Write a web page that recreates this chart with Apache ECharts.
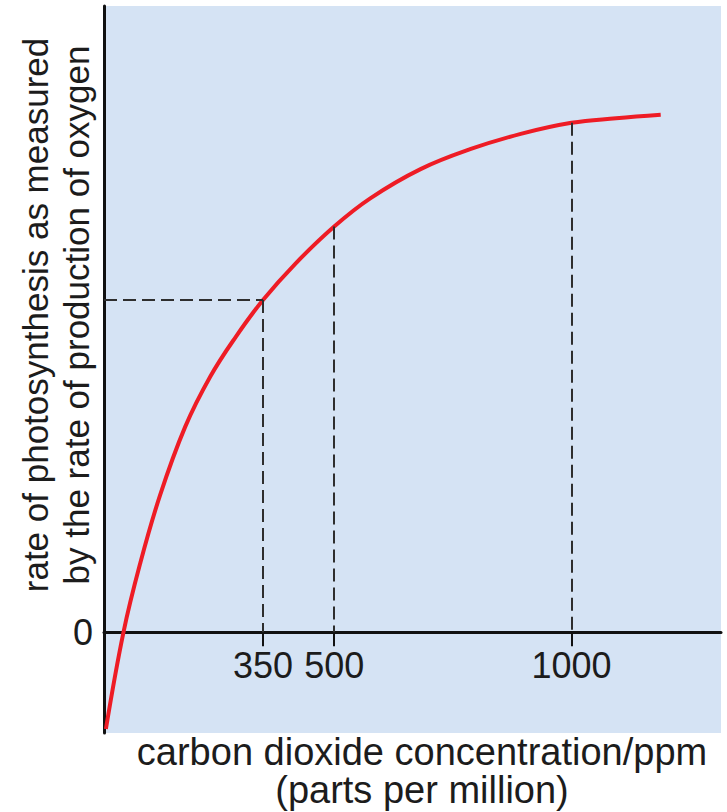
<!DOCTYPE html>
<html>
<head>
<meta charset="utf-8">
<script src="https://cdn.jsdelivr.net/npm/echarts@6/dist/echarts.min.js"></script>
<style>
  html, body { margin: 0; padding: 0; background: #ffffff; }
  #chart { width: 727px; height: 812px; }
</style>
</head>
<body>
<div id="chart"></div>
<script>
// CO2 concentration (ppm) along the response curve
const co2 = [19, 56, 91, 133, 186, 239, 292, 350, 418, 500, 576, 682, 788, 893, 1000, 1094, 1188];
// Relative rate of photosynthesis (oxygen production), arbitrary units
const rate = [-0.96, 0, 0.68, 1.36, 2.04, 2.54, 2.93, 3.30, 3.66, 4.03, 4.31, 4.60, 4.80, 4.95, 5.06, 5.105, 5.14];

// Highlighted concentrations and their rates
const refCo2 = [350, 500, 1000];
const refRate = [3.30, 4.03, 5.06];

// Axis labels
const xTicks = [350, 500, 1000];
const yTicks = [0];

const X_MIN = 15, X_MAX = 1315;
const Y_MIN = -1, Y_MAX = 6.22;

const GRID_TOP = 6, GRID_BOTTOM = 79, CHART_H = 812;

const textColor = '#1c1c1c';
const dashStyle = { type: [13, 6], color: '#2e2e2e', width: 2 };

// Dashed drop lines from the curve to the x axis, plus a guide to the y axis for the first point
const guideLines = refCo2.map((x, i) => [
  { coord: [x, refRate[i]] },
  { coord: [x, 0] }
]);
guideLines.push([
  { coord: [X_MIN, refRate[0]] },
  { coord: [refCo2[0], refRate[0]] }
]);

// The x axis sits on y = 0; shift it up from the grid bottom by the height of the negative band
const plotH = CHART_H - GRID_TOP - GRID_BOTTOM;
const zeroOffset = -plotH * (0 - Y_MIN) / (Y_MAX - Y_MIN);

const chart = echarts.init(document.getElementById('chart'), null, { renderer: 'svg' });

chart.setOption({
  animation: false,
  grid: {
    left: 104, right: 6, top: GRID_TOP, bottom: GRID_BOTTOM,
    show: true,
    backgroundColor: '#d5e3f4',
    borderWidth: 0
  },
  xAxis: {
    type: 'value',
    min: X_MIN,
    max: X_MAX,
    position: 'bottom',
    offset: zeroOffset,
    axisLine: { onZero: false, lineStyle: { color: '#111111', width: 3 } },
    axisTick: {
      customValues: xTicks,
      length: 14,
      lineStyle: { color: '#111111', width: 2 }
    },
    axisLabel: {
      customValues: xTicks,
      formatter: v => String(v),
      margin: 15,
      fontFamily: 'Liberation Sans',
      fontSize: 36,
      color: textColor
    },
    splitLine: { show: false }
  },
  yAxis: {
    type: 'value',
    min: Y_MIN,
    max: Y_MAX,
    axisLine: { show: true, onZero: false, lineStyle: { color: '#111111', width: 3 } },
    axisTick: { show: false },
    axisLabel: {
      customValues: yTicks,
      margin: 11,
      fontFamily: 'Liberation Sans',
      fontSize: 36,
      color: textColor
    },
    splitLine: { show: false }
  },
  series: [{
    type: 'line',
    data: co2.map((x, i) => [x, rate[i]]),
    smooth: 0.4,
    showSymbol: false,
    lineStyle: { color: '#ee1c25', width: 4 },
    markLine: {
      silent: true,
      symbol: ['none', 'none'],
      label: { show: false },
      lineStyle: dashStyle,
      data: guideLines
    },
    z: 3
  }],
  graphic: [
    {
      type: 'text',
      x: 56,
      y: 315,
      rotation: Math.PI / 2,
      style: {
        text: 'rate of photosynthesis as measured\nby the rate of production of oxygen',
        fontFamily: 'Liberation Sans',
        fontSize: 35,
        lineHeight: 41,
        fill: textColor,
        align: 'center',
        verticalAlign: 'middle'
      }
    },
    {
      type: 'text',
      x: 422,
      y: 771,
      style: {
        text: 'carbon dioxide concentration/ppm\n(parts per million)',
        fontFamily: 'Liberation Sans',
        fontSize: 38,
        lineHeight: 38,
        fill: textColor,
        align: 'center',
        verticalAlign: 'middle'
      }
    }
  ]
});
</script>
</body>
</html>
